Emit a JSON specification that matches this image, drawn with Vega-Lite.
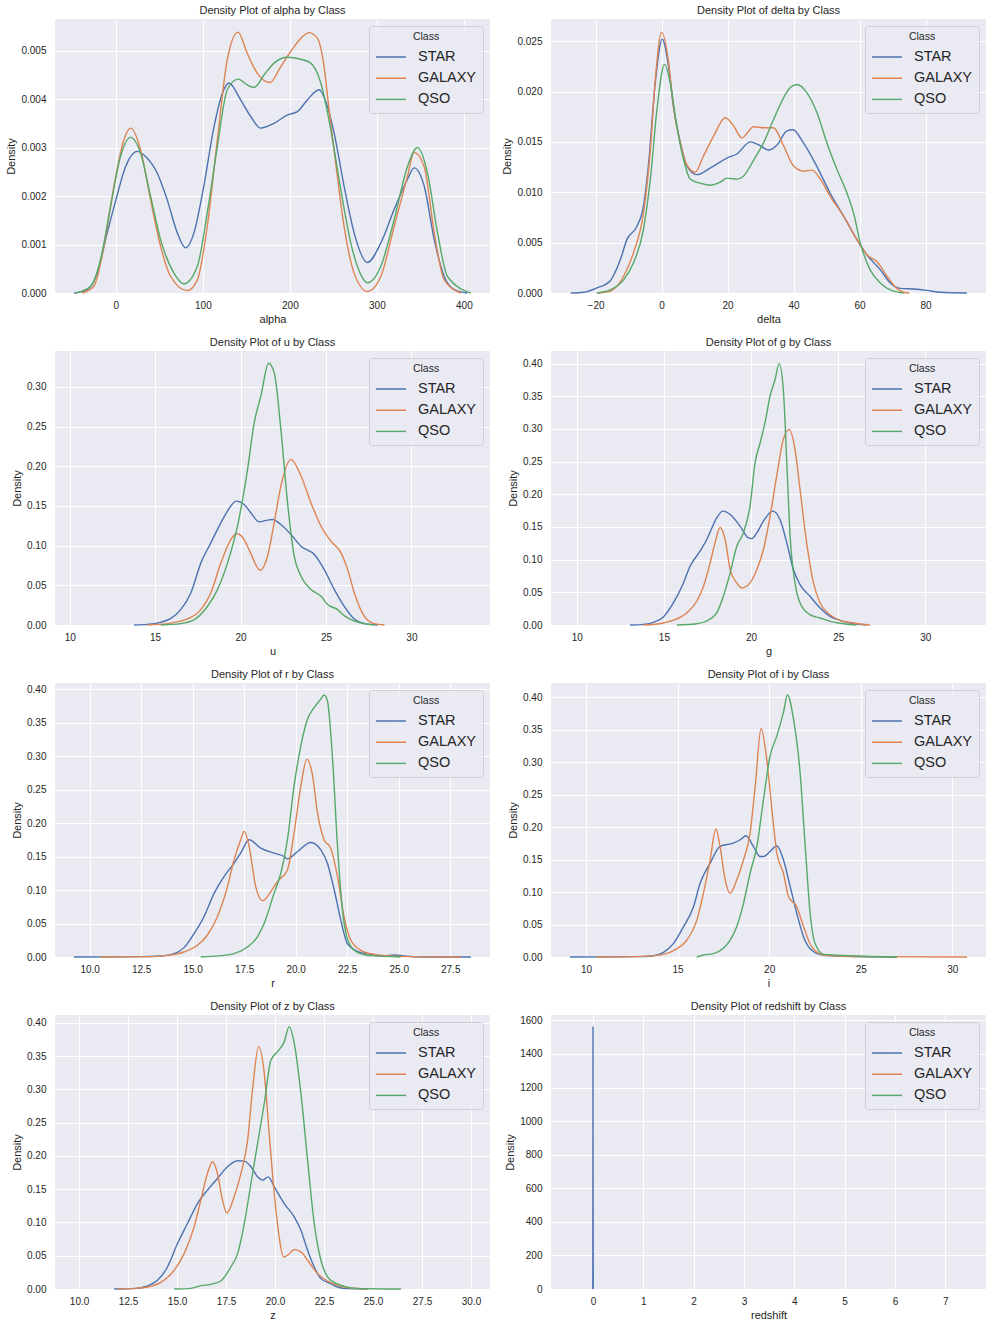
{
  "$schema": "https://vega.github.io/schema/vega-lite/v6.json",
  "background": "white",
  "padding": 5,
  "bounds": "flush",
  "columns": 2,
  "spacing": {"row": 58, "column": 61},
  "config": {
    "font": "Liberation Sans",
    "view": {"fill": "#eaeaf2", "stroke": null},
    "axis": {"domain": false, "ticks": false, "grid": true, "gridColor": "#ffffff", "gridWidth": 1, "gridOpacity": 1, "labelFont": "Liberation Sans", "labelFontSize": 10, "labelColor": "#262626", "labelOverlap": false, "titleFont": "Liberation Sans", "titleFontSize": 11, "titleFontWeight": "normal", "titleColor": "#262626"},
    "axisX": {"labelPadding": 7, "titlePadding": 3},
    "axisY": {"labelPadding": 9, "titlePadding": 4},
    "title": {"font": "Liberation Sans", "fontSize": 11, "fontWeight": "normal", "color": "#262626", "offset": 3, "frame": "group"},
    "legend": {"orient": "top-right", "offset": 7, "fillColor": "rgba(234,234,242,0.8)", "strokeColor": "#cfcfd6", "cornerRadius": 3, "padding": 6, "titleFont": "Liberation Sans", "titleFontSize": 10.5, "titleFontWeight": "normal", "titleColor": "#262626", "titleAnchor": "middle", "titlePadding": 7, "labelFont": "Liberation Sans", "labelFontSize": 14.5, "labelColor": "#262626", "labelOffset": 11, "symbolType": "stroke", "symbolSize": 900, "symbolStrokeWidth": 1.5, "clipHeight": 15, "rowPadding": 5.2},
    "line": {"strokeWidth": 1.4, "interpolate": "monotone", "clip": true}
  },
  "resolve": {"scale": {"x": "independent", "y": "independent", "color": "independent"}, "legend": {"color": "independent"}},
  "datasets": {
    "alpha": [
      {"c":"STAR","x":-48,"y":0},{"c":"STAR","x":-33,"y":0.00007},{"c":"STAR","x":-21.5,"y":0.00041},{"c":"STAR","x":-10,"y":0.00124},{"c":"STAR","x":0,"y":0.00192},{"c":"STAR","x":11,"y":0.0026},{"c":"STAR","x":24.5,"y":0.00292},{"c":"STAR","x":35,"y":0.0028},{"c":"STAR","x":47.6,"y":0.00247},{"c":"STAR","x":59,"y":0.00192},{"c":"STAR","x":70.6,"y":0.00124},{"c":"STAR","x":80,"y":0.00093},{"c":"STAR","x":89.7,"y":0.00124},{"c":"STAR","x":101,"y":0.0022},{"c":"STAR","x":112.8,"y":0.00343},{"c":"STAR","x":122,"y":0.0041},{"c":"STAR","x":130,"y":0.00433},{"c":"STAR","x":143.4,"y":0.00398},{"c":"STAR","x":155,"y":0.00364},{"c":"STAR","x":166.4,"y":0.0034},{"c":"STAR","x":181.8,"y":0.0035},{"c":"STAR","x":197,"y":0.00367},{"c":"STAR","x":208.6,"y":0.00374},{"c":"STAR","x":220,"y":0.00398},{"c":"STAR","x":233.6,"y":0.00419},{"c":"STAR","x":243,"y":0.00385},{"c":"STAR","x":250.8,"y":0.0033},{"c":"STAR","x":262.3,"y":0.0022},{"c":"STAR","x":273.8,"y":0.00124},{"c":"STAR","x":289,"y":0.00063},{"c":"STAR","x":304.5,"y":0.00103},{"c":"STAR","x":319.8,"y":0.00172},{"c":"STAR","x":335,"y":0.00234},{"c":"STAR","x":342.8,"y":0.00258},{"c":"STAR","x":354.4,"y":0.0022},{"c":"STAR","x":365.9,"y":0.0011},{"c":"STAR","x":377.4,"y":0.00034},{"c":"STAR","x":388.9,"y":0.00007},{"c":"STAR","x":404,"y":0},
      {"c":"GALAXY","x":-38.7,"y":0},{"c":"GALAXY","x":-25.3,"y":0.00014},{"c":"GALAXY","x":-13.8,"y":0.00096},{"c":"GALAXY","x":-2.3,"y":0.0022},{"c":"GALAXY","x":9.2,"y":0.00316},{"c":"GALAXY","x":16.9,"y":0.0034},{"c":"GALAXY","x":28.4,"y":0.00295},{"c":"GALAXY","x":39.9,"y":0.00192},{"c":"GALAXY","x":51.4,"y":0.00096},{"c":"GALAXY","x":62.9,"y":0.00034},{"c":"GALAXY","x":82,"y":0.00005},{"c":"GALAXY","x":93.6,"y":0.00027},{"c":"GALAXY","x":105,"y":0.00137},{"c":"GALAXY","x":116.6,"y":0.00316},{"c":"GALAXY","x":128,"y":0.00481},{"c":"GALAXY","x":140.4,"y":0.00538},{"c":"GALAXY","x":151,"y":0.00494},{"c":"GALAXY","x":162.6,"y":0.00453},{"c":"GALAXY","x":177.2,"y":0.00434},{"c":"GALAXY","x":189.5,"y":0.00467},{"c":"GALAXY","x":200.9,"y":0.00498},{"c":"GALAXY","x":212.5,"y":0.00525},{"c":"GALAXY","x":222,"y":0.00537},{"c":"GALAXY","x":231.6,"y":0.00525},{"c":"GALAXY","x":239.3,"y":0.00467},{"c":"GALAXY","x":245,"y":0.00378},{"c":"GALAXY","x":250.8,"y":0.00295},{"c":"GALAXY","x":262.3,"y":0.00137},{"c":"GALAXY","x":273.8,"y":0.00041},{"c":"GALAXY","x":289.2,"y":0.00003},{"c":"GALAXY","x":304.5,"y":0.00034},{"c":"GALAXY","x":319.8,"y":0.00137},{"c":"GALAXY","x":335,"y":0.0024},{"c":"GALAXY","x":342.8,"y":0.0029},{"c":"GALAXY","x":354.4,"y":0.0026},{"c":"GALAXY","x":365.9,"y":0.00124},{"c":"GALAXY","x":377.4,"y":0.00027},{"c":"GALAXY","x":396.6,"y":0},
      {"c":"QSO","x":-46.4,"y":0},{"c":"QSO","x":-29,"y":0.00014},{"c":"QSO","x":-17.6,"y":0.00069},{"c":"QSO","x":-6.1,"y":0.00179},{"c":"QSO","x":5.4,"y":0.00282},{"c":"QSO","x":16.9,"y":0.00321},{"c":"QSO","x":28.4,"y":0.00288},{"c":"QSO","x":39.9,"y":0.00199},{"c":"QSO","x":51.4,"y":0.0011},{"c":"QSO","x":66.7,"y":0.00041},{"c":"QSO","x":78.2,"y":0.00019},{"c":"QSO","x":93.6,"y":0.00055},{"c":"QSO","x":105,"y":0.00165},{"c":"QSO","x":116.6,"y":0.00302},{"c":"QSO","x":128,"y":0.00419},{"c":"QSO","x":140.4,"y":0.00441},{"c":"QSO","x":151,"y":0.00429},{"c":"QSO","x":158.8,"y":0.00424},{"c":"QSO","x":170.4,"y":0.0045},{"c":"QSO","x":181.8,"y":0.00474},{"c":"QSO","x":197,"y":0.00486},{"c":"QSO","x":212.5,"y":0.00482},{"c":"QSO","x":224,"y":0.00474},{"c":"QSO","x":235.5,"y":0.00433},{"c":"QSO","x":247,"y":0.00337},{"c":"QSO","x":258.5,"y":0.00213},{"c":"QSO","x":270,"y":0.00103},{"c":"QSO","x":281.5,"y":0.00038},{"c":"QSO","x":289,"y":0.00021},{"c":"QSO","x":304.5,"y":0.00055},{"c":"QSO","x":319.8,"y":0.00151},{"c":"QSO","x":335,"y":0.0026},{"c":"QSO","x":346.6,"y":0.003},{"c":"QSO","x":358.2,"y":0.00247},{"c":"QSO","x":369.7,"y":0.00124},{"c":"QSO","x":381.2,"y":0.00034},{"c":"QSO","x":408,"y":0}
    ],
    "delta": [
      {"c":"STAR","x":-27.5,"y":0},{"c":"STAR","x":-23.6,"y":0.00007},{"c":"STAR","x":-19.6,"y":0.0005},{"c":"STAR","x":-15.6,"y":0.0012},{"c":"STAR","x":-12.5,"y":0.0033},{"c":"STAR","x":-10.5,"y":0.0053},{"c":"STAR","x":-7.5,"y":0.0066},{"c":"STAR","x":-5.5,"y":0.0086},{"c":"STAR","x":-4,"y":0.0126},{"c":"STAR","x":-1.9,"y":0.0209},{"c":"STAR","x":0.2,"y":0.0252},{"c":"STAR","x":2.1,"y":0.0225},{"c":"STAR","x":3.6,"y":0.0185},{"c":"STAR","x":5.7,"y":0.0149},{"c":"STAR","x":7.7,"y":0.0126},{"c":"STAR","x":10.7,"y":0.01175},{"c":"STAR","x":14.7,"y":0.0124},{"c":"STAR","x":19.8,"y":0.0134},{"c":"STAR","x":22.8,"y":0.0138},{"c":"STAR","x":26.9,"y":0.015},{"c":"STAR","x":29.4,"y":0.0147},{"c":"STAR","x":32.4,"y":0.0142},{"c":"STAR","x":35,"y":0.0147},{"c":"STAR","x":38,"y":0.0161},{"c":"STAR","x":39.8,"y":0.0162},{"c":"STAR","x":43,"y":0.0149},{"c":"STAR","x":47,"y":0.0126},{"c":"STAR","x":51.1,"y":0.0099},{"c":"STAR","x":55.2,"y":0.0076},{"c":"STAR","x":59.2,"y":0.0053},{"c":"STAR","x":62.2,"y":0.0038},{"c":"STAR","x":66.3,"y":0.0023},{"c":"STAR","x":69.3,"y":0.001},{"c":"STAR","x":72.3,"y":0.00046},{"c":"STAR","x":76.4,"y":0.0004},{"c":"STAR","x":80.4,"y":0.00026},{"c":"STAR","x":84.4,"y":0.00007},{"c":"STAR","x":92.5,"y":0},
      {"c":"GALAXY","x":-19.6,"y":0},{"c":"GALAXY","x":-15.6,"y":0.00017},{"c":"GALAXY","x":-11.5,"y":0.00166},{"c":"GALAXY","x":-8.5,"y":0.004},{"c":"GALAXY","x":-5.5,"y":0.0079},{"c":"GALAXY","x":-3.4,"y":0.0142},{"c":"GALAXY","x":-1.9,"y":0.0212},{"c":"GALAXY","x":0,"y":0.0259},{"c":"GALAXY","x":2.1,"y":0.023},{"c":"GALAXY","x":3.6,"y":0.0185},{"c":"GALAXY","x":5.7,"y":0.0149},{"c":"GALAXY","x":7.7,"y":0.0127},{"c":"GALAXY","x":10.2,"y":0.012},{"c":"GALAXY","x":12.7,"y":0.0136},{"c":"GALAXY","x":15.8,"y":0.0156},{"c":"GALAXY","x":19.3,"y":0.0174},{"c":"GALAXY","x":21.8,"y":0.0166},{"c":"GALAXY","x":24.3,"y":0.0154},{"c":"GALAXY","x":27.9,"y":0.0165},{"c":"GALAXY","x":30.9,"y":0.0164},{"c":"GALAXY","x":33.9,"y":0.0164},{"c":"GALAXY","x":37,"y":0.0146},{"c":"GALAXY","x":40,"y":0.0126},{"c":"GALAXY","x":43,"y":0.0121},{"c":"GALAXY","x":45.6,"y":0.0122},{"c":"GALAXY","x":48.1,"y":0.0113},{"c":"GALAXY","x":51.1,"y":0.0096},{"c":"GALAXY","x":55.2,"y":0.0076},{"c":"GALAXY","x":59.2,"y":0.0053},{"c":"GALAXY","x":62.2,"y":0.0038},{"c":"GALAXY","x":65.3,"y":0.0031},{"c":"GALAXY","x":68.3,"y":0.00166},{"c":"GALAXY","x":71.3,"y":0.00046},{"c":"GALAXY","x":73.3,"y":0.00007},{"c":"GALAXY","x":75,"y":0},
      {"c":"QSO","x":-19.6,"y":0},{"c":"QSO","x":-15.6,"y":0.0003},{"c":"QSO","x":-11.5,"y":0.0013},{"c":"QSO","x":-8.5,"y":0.003},{"c":"QSO","x":-5.5,"y":0.0063},{"c":"QSO","x":-3.4,"y":0.0113},{"c":"QSO","x":-1.4,"y":0.0182},{"c":"QSO","x":0.9,"y":0.0227},{"c":"QSO","x":2.6,"y":0.0209},{"c":"QSO","x":4.6,"y":0.0166},{"c":"QSO","x":6.7,"y":0.0132},{"c":"QSO","x":8.7,"y":0.0113},{"c":"QSO","x":11.7,"y":0.0109},{"c":"QSO","x":14.7,"y":0.0107},{"c":"QSO","x":17.8,"y":0.011},{"c":"QSO","x":19.8,"y":0.0114},{"c":"QSO","x":22.8,"y":0.0113},{"c":"QSO","x":24.8,"y":0.0116},{"c":"QSO","x":27.9,"y":0.0132},{"c":"QSO","x":30.9,"y":0.0149},{"c":"QSO","x":33.9,"y":0.0172},{"c":"QSO","x":37,"y":0.0194},{"c":"QSO","x":39,"y":0.0204},{"c":"QSO","x":41,"y":0.0207},{"c":"QSO","x":44,"y":0.0199},{"c":"QSO","x":47.1,"y":0.0179},{"c":"QSO","x":50.1,"y":0.0149},{"c":"QSO","x":53.1,"y":0.0123},{"c":"QSO","x":56.2,"y":0.0099},{"c":"QSO","x":58.2,"y":0.0079},{"c":"QSO","x":60.2,"y":0.005},{"c":"QSO","x":63.2,"y":0.0023},{"c":"QSO","x":66.3,"y":0.001},{"c":"QSO","x":69.3,"y":0.0003},{"c":"QSO","x":73.3,"y":0}
    ],
    "u": [
      {"c":"STAR","x":13.77,"y":0},{"c":"STAR","x":14.55,"y":0.0008},{"c":"STAR","x":15.33,"y":0.0034},{"c":"STAR","x":15.92,"y":0.0084},{"c":"STAR","x":16.5,"y":0.0194},{"c":"STAR","x":17.09,"y":0.0404},{"c":"STAR","x":17.68,"y":0.0783},{"c":"STAR","x":18.26,"y":0.1035},{"c":"STAR","x":18.85,"y":0.1288},{"c":"STAR","x":19.43,"y":0.1498},{"c":"STAR","x":19.73,"y":0.1561},{"c":"STAR","x":20.21,"y":0.1519},{"c":"STAR","x":20.6,"y":0.1414},{"c":"STAR","x":21.09,"y":0.13},{"c":"STAR","x":21.58,"y":0.1321},{"c":"STAR","x":21.88,"y":0.133},{"c":"STAR","x":22.36,"y":0.1266},{"c":"STAR","x":22.95,"y":0.114},{"c":"STAR","x":23.54,"y":0.0993},{"c":"STAR","x":24.32,"y":0.0888},{"c":"STAR","x":24.9,"y":0.0698},{"c":"STAR","x":25.49,"y":0.0446},{"c":"STAR","x":26.07,"y":0.0236},{"c":"STAR","x":26.66,"y":0.0076},{"c":"STAR","x":27.25,"y":0.0017},{"c":"STAR","x":28.03,"y":0},
      {"c":"GALAXY","x":14.55,"y":0},{"c":"GALAXY","x":15.72,"y":0.0017},{"c":"GALAXY","x":16.89,"y":0.0076},{"c":"GALAXY","x":17.68,"y":0.0194},{"c":"GALAXY","x":18.26,"y":0.0404},{"c":"GALAXY","x":18.85,"y":0.0783},{"c":"GALAXY","x":19.43,"y":0.1077},{"c":"GALAXY","x":19.79,"y":0.1153},{"c":"GALAXY","x":20.21,"y":0.1077},{"c":"GALAXY","x":20.6,"y":0.09},{"c":"GALAXY","x":21.15,"y":0.069},{"c":"GALAXY","x":21.58,"y":0.0867},{"c":"GALAXY","x":21.97,"y":0.1288},{"c":"GALAXY","x":22.36,"y":0.175},{"c":"GALAXY","x":22.95,"y":0.2087},{"c":"GALAXY","x":23.54,"y":0.1877},{"c":"GALAXY","x":24.12,"y":0.154},{"c":"GALAXY","x":24.71,"y":0.1245},{"c":"GALAXY","x":25.29,"y":0.1056},{"c":"GALAXY","x":25.88,"y":0.0909},{"c":"GALAXY","x":26.27,"y":0.0698},{"c":"GALAXY","x":26.66,"y":0.0404},{"c":"GALAXY","x":27.25,"y":0.0109},{"c":"GALAXY","x":27.83,"y":0.0017},{"c":"GALAXY","x":28.42,"y":0},
      {"c":"QSO","x":15.33,"y":0},{"c":"QSO","x":16.5,"y":0.0017},{"c":"QSO","x":17.29,"y":0.0067},{"c":"QSO","x":18.07,"y":0.0236},{"c":"QSO","x":18.65,"y":0.0446},{"c":"QSO","x":19.24,"y":0.0783},{"c":"QSO","x":19.82,"y":0.1245},{"c":"QSO","x":20.41,"y":0.196},{"c":"QSO","x":20.8,"y":0.255},{"c":"QSO","x":21.19,"y":0.2886},{"c":"QSO","x":21.64,"y":0.3299},{"c":"QSO","x":21.97,"y":0.318},{"c":"QSO","x":22.36,"y":0.2466},{"c":"QSO","x":22.75,"y":0.154},{"c":"QSO","x":23.14,"y":0.0867},{"c":"QSO","x":23.54,"y":0.0614},{"c":"QSO","x":24.12,"y":0.0446},{"c":"QSO","x":24.71,"y":0.0362},{"c":"QSO","x":25.1,"y":0.0257},{"c":"QSO","x":25.68,"y":0.0194},{"c":"QSO","x":26.07,"y":0.0118},{"c":"QSO","x":26.46,"y":0.0067},{"c":"QSO","x":27.25,"y":0.0017},{"c":"QSO","x":27.83,"y":0}
    ],
    "g": [
      {"c":"STAR","x":13.06,"y":0},{"c":"STAR","x":13.82,"y":0.001},{"c":"STAR","x":14.4,"y":0.0041},{"c":"STAR","x":14.97,"y":0.0123},{"c":"STAR","x":15.54,"y":0.0337},{"c":"STAR","x":16.12,"y":0.0644},{"c":"STAR","x":16.5,"y":0.0899},{"c":"STAR","x":17.07,"y":0.1129},{"c":"STAR","x":17.46,"y":0.1308},{"c":"STAR","x":18.03,"y":0.164},{"c":"STAR","x":18.37,"y":0.1742},{"c":"STAR","x":18.8,"y":0.1691},{"c":"STAR","x":19.37,"y":0.1512},{"c":"STAR","x":19.85,"y":0.1333},{"c":"STAR","x":20.04,"y":0.1323},{"c":"STAR","x":20.33,"y":0.141},{"c":"STAR","x":20.71,"y":0.1589},{"c":"STAR","x":21.24,"y":0.1742},{"c":"STAR","x":21.66,"y":0.1614},{"c":"STAR","x":22.05,"y":0.1257},{"c":"STAR","x":22.43,"y":0.0848},{"c":"STAR","x":22.81,"y":0.0618},{"c":"STAR","x":23.38,"y":0.0439},{"c":"STAR","x":23.96,"y":0.0261},{"c":"STAR","x":24.53,"y":0.0133},{"c":"STAR","x":25.1,"y":0.0072},{"c":"STAR","x":25.68,"y":0.0031},{"c":"STAR","x":26.63,"y":0},
      {"c":"GALAXY","x":13.82,"y":0},{"c":"GALAXY","x":14.97,"y":0.0031},{"c":"GALAXY","x":15.74,"y":0.0092},{"c":"GALAXY","x":16.31,"y":0.0184},{"c":"GALAXY","x":16.88,"y":0.0363},{"c":"GALAXY","x":17.27,"y":0.0593},{"c":"GALAXY","x":17.65,"y":0.095},{"c":"GALAXY","x":17.93,"y":0.1257},{"c":"GALAXY","x":18.22,"y":0.1492},{"c":"GALAXY","x":18.51,"y":0.1308},{"c":"GALAXY","x":18.8,"y":0.0848},{"c":"GALAXY","x":19.18,"y":0.0644},{"c":"GALAXY","x":19.46,"y":0.0567},{"c":"GALAXY","x":19.94,"y":0.0644},{"c":"GALAXY","x":20.33,"y":0.0848},{"c":"GALAXY","x":20.71,"y":0.1155},{"c":"GALAXY","x":21.09,"y":0.1665},{"c":"GALAXY","x":21.47,"y":0.2278},{"c":"GALAXY","x":21.85,"y":0.284},{"c":"GALAXY","x":22.18,"y":0.2994},{"c":"GALAXY","x":22.52,"y":0.2687},{"c":"GALAXY","x":22.81,"y":0.2074},{"c":"GALAXY","x":23.19,"y":0.1257},{"c":"GALAXY","x":23.58,"y":0.0644},{"c":"GALAXY","x":23.96,"y":0.0337},{"c":"GALAXY","x":24.53,"y":0.0158},{"c":"GALAXY","x":25.1,"y":0.0072},{"c":"GALAXY","x":25.87,"y":0.0031},{"c":"GALAXY","x":26.83,"y":0},
      {"c":"QSO","x":15.74,"y":0},{"c":"QSO","x":16.88,"y":0.002},{"c":"QSO","x":17.65,"y":0.0092},{"c":"QSO","x":18.03,"y":0.0184},{"c":"QSO","x":18.41,"y":0.0439},{"c":"QSO","x":18.8,"y":0.0797},{"c":"QSO","x":19.18,"y":0.1206},{"c":"QSO","x":19.56,"y":0.141},{"c":"QSO","x":19.94,"y":0.1819},{"c":"QSO","x":20.23,"y":0.2483},{"c":"QSO","x":20.52,"y":0.2789},{"c":"QSO","x":20.8,"y":0.3096},{"c":"QSO","x":21.09,"y":0.3504},{"c":"QSO","x":21.38,"y":0.376},{"c":"QSO","x":21.61,"y":0.4},{"c":"QSO","x":21.85,"y":0.3607},{"c":"QSO","x":22.05,"y":0.2483},{"c":"QSO","x":22.24,"y":0.1359},{"c":"QSO","x":22.52,"y":0.0644},{"c":"QSO","x":22.81,"y":0.0337},{"c":"QSO","x":23.38,"y":0.0158},{"c":"QSO","x":23.96,"y":0.0107},{"c":"QSO","x":24.53,"y":0.0056},{"c":"QSO","x":25.3,"y":0.002},{"c":"QSO","x":26.06,"y":0}
    ],
    "r": [
      {"c":"STAR","x":9.24,"y":0},{"c":"STAR","x":12.48,"y":0.0005},{"c":"STAR","x":13.45,"y":0.0015},{"c":"STAR","x":14.1,"y":0.005},{"c":"STAR","x":14.58,"y":0.014},{"c":"STAR","x":15.07,"y":0.035},{"c":"STAR","x":15.55,"y":0.06},{"c":"STAR","x":16.04,"y":0.095},{"c":"STAR","x":16.52,"y":0.12},{"c":"STAR","x":17.01,"y":0.14},{"c":"STAR","x":17.33,"y":0.155},{"c":"STAR","x":17.74,"y":0.175},{"c":"STAR","x":18.3,"y":0.1625},{"c":"STAR","x":18.95,"y":0.155},{"c":"STAR","x":19.44,"y":0.15},{"c":"STAR","x":19.6,"y":0.1465},{"c":"STAR","x":20.09,"y":0.1575},{"c":"STAR","x":20.73,"y":0.171},{"c":"STAR","x":21.22,"y":0.16},{"c":"STAR","x":21.54,"y":0.14},{"c":"STAR","x":21.87,"y":0.1},{"c":"STAR","x":22.19,"y":0.055},{"c":"STAR","x":22.51,"y":0.02},{"c":"STAR","x":23.0,"y":0.0085},{"c":"STAR","x":23.65,"y":0.004},{"c":"STAR","x":24.29,"y":0.002},{"c":"STAR","x":24.78,"y":0.003},{"c":"STAR","x":25.27,"y":0.0015},{"c":"STAR","x":26.08,"y":0},{"c":"STAR","x":28.5,"y":0},
      {"c":"GALAXY","x":10.53,"y":0},{"c":"GALAXY","x":12.8,"y":0.0005},{"c":"GALAXY","x":13.77,"y":0.0025},{"c":"GALAXY","x":14.58,"y":0.0075},{"c":"GALAXY","x":15.23,"y":0.0175},{"c":"GALAXY","x":15.71,"y":0.0325},{"c":"GALAXY","x":16.2,"y":0.06},{"c":"GALAXY","x":16.69,"y":0.105},{"c":"GALAXY","x":17.01,"y":0.145},{"c":"GALAXY","x":17.33,"y":0.175},{"c":"GALAXY","x":17.5,"y":0.1875},{"c":"GALAXY","x":17.74,"y":0.165},{"c":"GALAXY","x":18.06,"y":0.105},{"c":"GALAXY","x":18.39,"y":0.084},{"c":"GALAXY","x":18.79,"y":0.0975},{"c":"GALAXY","x":19.11,"y":0.1125},{"c":"GALAXY","x":19.6,"y":0.13},{"c":"GALAXY","x":19.92,"y":0.185},{"c":"GALAXY","x":20.25,"y":0.255},{"c":"GALAXY","x":20.54,"y":0.295},{"c":"GALAXY","x":20.81,"y":0.2725},{"c":"GALAXY","x":21.06,"y":0.215},{"c":"GALAXY","x":21.38,"y":0.175},{"c":"GALAXY","x":21.7,"y":0.1625},{"c":"GALAXY","x":22.03,"y":0.12},{"c":"GALAXY","x":22.35,"y":0.06},{"c":"GALAXY","x":22.68,"y":0.025},{"c":"GALAXY","x":23.16,"y":0.01},{"c":"GALAXY","x":23.81,"y":0.004},{"c":"GALAXY","x":25.1,"y":0.001},{"c":"GALAXY","x":28.02,"y":0},
      {"c":"QSO","x":15.39,"y":0},{"c":"QSO","x":16.36,"y":0.002},{"c":"QSO","x":17.01,"y":0.005},{"c":"QSO","x":17.66,"y":0.015},{"c":"QSO","x":18.14,"y":0.03},{"c":"QSO","x":18.47,"y":0.05},{"c":"QSO","x":18.95,"y":0.095},{"c":"QSO","x":19.28,"y":0.125},{"c":"QSO","x":19.6,"y":0.175},{"c":"QSO","x":19.92,"y":0.255},{"c":"QSO","x":20.25,"y":0.315},{"c":"QSO","x":20.57,"y":0.355},{"c":"QSO","x":20.9,"y":0.3725},{"c":"QSO","x":21.22,"y":0.385},{"c":"QSO","x":21.38,"y":0.391},{"c":"QSO","x":21.54,"y":0.3825},{"c":"QSO","x":21.79,"y":0.295},{"c":"QSO","x":22.03,"y":0.165},{"c":"QSO","x":22.27,"y":0.07},{"c":"QSO","x":22.6,"y":0.02},{"c":"QSO","x":23.0,"y":0.007},{"c":"QSO","x":23.65,"y":0.002},{"c":"QSO","x":25.1,"y":0}
    ],
    "i": [
      {"c":"STAR","x":9.13,"y":0},{"c":"STAR","x":12.77,"y":0.0005},{"c":"STAR","x":13.68,"y":0.002},{"c":"STAR","x":14.23,"y":0.0072},{"c":"STAR","x":14.77,"y":0.0206},{"c":"STAR","x":15.32,"y":0.0464},{"c":"STAR","x":15.87,"y":0.0773},{"c":"STAR","x":16.23,"y":0.1134},{"c":"STAR","x":16.78,"y":0.1443},{"c":"STAR","x":17.32,"y":0.1701},{"c":"STAR","x":18.05,"y":0.1753},{"c":"STAR","x":18.42,"y":0.1804},{"c":"STAR","x":18.74,"y":0.1866},{"c":"STAR","x":19.14,"y":0.1701},{"c":"STAR","x":19.51,"y":0.1546},{"c":"STAR","x":19.69,"y":0.1546},{"c":"STAR","x":20.05,"y":0.1624},{"c":"STAR","x":20.42,"y":0.1711},{"c":"STAR","x":20.78,"y":0.1495},{"c":"STAR","x":21.15,"y":0.1083},{"c":"STAR","x":21.51,"y":0.067},{"c":"STAR","x":21.88,"y":0.0309},{"c":"STAR","x":22.33,"y":0.0103},{"c":"STAR","x":22.97,"y":0.0026},{"c":"STAR","x":24.24,"y":0.001},{"c":"STAR","x":26.98,"y":0},
      {"c":"GALAXY","x":10.58,"y":0},{"c":"GALAXY","x":13.13,"y":0.001},{"c":"GALAXY","x":14.23,"y":0.0041},{"c":"GALAXY","x":14.95,"y":0.0124},{"c":"GALAXY","x":15.5,"y":0.0258},{"c":"GALAXY","x":16.05,"y":0.0567},{"c":"GALAXY","x":16.41,"y":0.0979},{"c":"GALAXY","x":16.78,"y":0.1495},{"c":"GALAXY","x":17.09,"y":0.1969},{"c":"GALAXY","x":17.32,"y":0.1701},{"c":"GALAXY","x":17.6,"y":0.1186},{"c":"GALAXY","x":17.87,"y":0.0979},{"c":"GALAXY","x":18.23,"y":0.1186},{"c":"GALAXY","x":18.6,"y":0.1495},{"c":"GALAXY","x":18.96,"y":0.1907},{"c":"GALAXY","x":19.24,"y":0.2629},{"c":"GALAXY","x":19.56,"y":0.3516},{"c":"GALAXY","x":19.87,"y":0.3041},{"c":"GALAXY","x":20.15,"y":0.2268},{"c":"GALAXY","x":20.42,"y":0.1598},{"c":"GALAXY","x":20.78,"y":0.1289},{"c":"GALAXY","x":21.06,"y":0.0928},{"c":"GALAXY","x":21.51,"y":0.0773},{"c":"GALAXY","x":21.88,"y":0.0464},{"c":"GALAXY","x":22.33,"y":0.0155},{"c":"GALAXY","x":22.97,"y":0.0031},{"c":"GALAXY","x":25.15,"y":0.0005},{"c":"GALAXY","x":30.8,"y":0},
      {"c":"QSO","x":16.05,"y":0},{"c":"QSO","x":16.41,"y":0.0031},{"c":"QSO","x":16.96,"y":0.0052},{"c":"QSO","x":17.5,"y":0.0134},{"c":"QSO","x":17.87,"y":0.0258},{"c":"QSO","x":18.23,"y":0.0464},{"c":"QSO","x":18.6,"y":0.0825},{"c":"QSO","x":18.96,"y":0.1289},{"c":"QSO","x":19.33,"y":0.1701},{"c":"QSO","x":19.69,"y":0.2423},{"c":"QSO","x":20.05,"y":0.3093},{"c":"QSO","x":20.42,"y":0.3402},{"c":"QSO","x":20.78,"y":0.3763},{"c":"QSO","x":21.0,"y":0.4031},{"c":"QSO","x":21.33,"y":0.366},{"c":"QSO","x":21.69,"y":0.2835},{"c":"QSO","x":21.97,"y":0.1701},{"c":"QSO","x":22.24,"y":0.067},{"c":"QSO","x":22.51,"y":0.0206},{"c":"QSO","x":22.97,"y":0.0041},{"c":"QSO","x":24.43,"y":0.002},{"c":"QSO","x":26.98,"y":0}
    ],
    "z": [
      {"c":"STAR","x":11.79,"y":0},{"c":"STAR","x":12.81,"y":0.0005},{"c":"STAR","x":13.49,"y":0.0045},{"c":"STAR","x":14.0,"y":0.013},{"c":"STAR","x":14.51,"y":0.0331},{"c":"STAR","x":15.02,"y":0.0683},{"c":"STAR","x":15.53,"y":0.0984},{"c":"STAR","x":16.04,"y":0.1285},{"c":"STAR","x":16.55,"y":0.1486},{"c":"STAR","x":17.06,"y":0.1661},{"c":"STAR","x":17.57,"y":0.1837},{"c":"STAR","x":18.09,"y":0.1927},{"c":"STAR","x":18.43,"y":0.1922},{"c":"STAR","x":18.77,"y":0.1837},{"c":"STAR","x":19.11,"y":0.1686},{"c":"STAR","x":19.36,"y":0.1636},{"c":"STAR","x":19.65,"y":0.1686},{"c":"STAR","x":19.96,"y":0.1536},{"c":"STAR","x":20.47,"y":0.1285},{"c":"STAR","x":20.98,"y":0.1084},{"c":"STAR","x":21.32,"y":0.0883},{"c":"STAR","x":21.66,"y":0.0582},{"c":"STAR","x":22.0,"y":0.0331},{"c":"STAR","x":22.34,"y":0.0156},{"c":"STAR","x":22.85,"y":0.008},{"c":"STAR","x":23.19,"y":0.003},{"c":"STAR","x":23.7,"y":0.0005},{"c":"STAR","x":24.72,"y":0},
      {"c":"GALAXY","x":11.96,"y":0},{"c":"GALAXY","x":12.81,"y":0.001},{"c":"GALAXY","x":13.49,"y":0.003},{"c":"GALAXY","x":14.17,"y":0.01},{"c":"GALAXY","x":14.85,"y":0.0281},{"c":"GALAXY","x":15.36,"y":0.0532},{"c":"GALAXY","x":15.87,"y":0.0934},{"c":"GALAXY","x":16.21,"y":0.1335},{"c":"GALAXY","x":16.55,"y":0.1737},{"c":"GALAXY","x":16.81,"y":0.1912},{"c":"GALAXY","x":17.06,"y":0.1737},{"c":"GALAXY","x":17.32,"y":0.1335},{"c":"GALAXY","x":17.54,"y":0.1144},{"c":"GALAXY","x":17.91,"y":0.1385},{"c":"GALAXY","x":18.26,"y":0.1737},{"c":"GALAXY","x":18.6,"y":0.2238},{"c":"GALAXY","x":18.85,"y":0.2991},{"c":"GALAXY","x":19.16,"y":0.3644},{"c":"GALAXY","x":19.45,"y":0.3242},{"c":"GALAXY","x":19.7,"y":0.2339},{"c":"GALAXY","x":19.96,"y":0.1435},{"c":"GALAXY","x":20.21,"y":0.0783},{"c":"GALAXY","x":20.43,"y":0.0482},{"c":"GALAXY","x":20.64,"y":0.0507},{"c":"GALAXY","x":20.98,"y":0.0592},{"c":"GALAXY","x":21.32,"y":0.0557},{"c":"GALAXY","x":21.66,"y":0.0432},{"c":"GALAXY","x":22.17,"y":0.0231},{"c":"GALAXY","x":22.68,"y":0.012},{"c":"GALAXY","x":23.19,"y":0.0055},{"c":"GALAXY","x":23.87,"y":0.0015},{"c":"GALAXY","x":24.72,"y":0},
      {"c":"QSO","x":14.85,"y":0},{"c":"QSO","x":15.7,"y":0.001},{"c":"QSO","x":16.21,"y":0.005},{"c":"QSO","x":16.72,"y":0.007},{"c":"QSO","x":17.23,"y":0.012},{"c":"QSO","x":17.74,"y":0.0331},{"c":"QSO","x":18.09,"y":0.0532},{"c":"QSO","x":18.43,"y":0.0984},{"c":"QSO","x":18.77,"y":0.1586},{"c":"QSO","x":19.11,"y":0.2188},{"c":"QSO","x":19.45,"y":0.279},{"c":"QSO","x":19.79,"y":0.3443},{"c":"QSO","x":20.13,"y":0.3568},{"c":"QSO","x":20.47,"y":0.3719},{"c":"QSO","x":20.72,"y":0.3945},{"c":"QSO","x":20.98,"y":0.3694},{"c":"QSO","x":21.32,"y":0.2941},{"c":"QSO","x":21.66,"y":0.1937},{"c":"QSO","x":22.0,"y":0.0984},{"c":"QSO","x":22.34,"y":0.0432},{"c":"QSO","x":22.68,"y":0.0181},{"c":"QSO","x":23.02,"y":0.01},{"c":"QSO","x":23.53,"y":0.004},{"c":"QSO","x":24.38,"y":0.0005},{"c":"QSO","x":26.43,"y":0}
    ],
    "redshift": [
      {"c":"STAR","x":-0.004,"y":0},{"c":"STAR","x":-0.0012,"y":780},{"c":"STAR","x":0,"y":1564},{"c":"STAR","x":0.0012,"y":780},{"c":"STAR","x":0.004,"y":0}
    ]
  },
  "concat": [
    {"width": 435, "height": 274, "title": "Density Plot of alpha by Class", "data": {"name": "alpha"}, "mark": {"type": "line"},
     "encoding": {
       "x": {"field": "x", "type": "quantitative", "title": "alpha", "scale": {"domain": [-70, 430], "nice": false, "zero": false}, "axis": {"values": [0, 100, 200, 300, 400], "format": "d"}},
       "y": {"field": "y", "type": "quantitative", "title": "Density", "scale": {"domain": [0, 0.00565], "nice": false}, "axis": {"values": [0, 0.001, 0.002, 0.003, 0.004, 0.005], "format": ".3f"}},
       "color": {"field": "c", "type": "nominal", "scale": {"domain": ["STAR", "GALAXY", "QSO"], "range": ["#4c72b0", "#dd8452", "#55a868"]}, "legend": {"title": "Class"}}}},
    {"width": 435, "height": 274, "title": "Density Plot of delta by Class", "data": {"name": "delta"}, "mark": {"type": "line"},
     "encoding": {
       "x": {"field": "x", "type": "quantitative", "title": "delta", "scale": {"domain": [-33.5, 98.3], "nice": false, "zero": false}, "axis": {"values": [-20, 0, 20, 40, 60, 80], "format": "d"}},
       "y": {"field": "y", "type": "quantitative", "title": "Density", "scale": {"domain": [0, 0.0272], "nice": false}, "axis": {"values": [0, 0.005, 0.01, 0.015, 0.02, 0.025], "format": ".3f"}},
       "color": {"field": "c", "type": "nominal", "scale": {"domain": ["STAR", "GALAXY", "QSO"], "range": ["#4c72b0", "#dd8452", "#55a868"]}, "legend": {"title": "Class"}}}},
    {"width": 435, "height": 274, "title": "Density Plot of u by Class", "data": {"name": "u"}, "mark": {"type": "line"},
     "encoding": {
       "x": {"field": "x", "type": "quantitative", "title": "u", "scale": {"domain": [9.14, 34.6], "nice": false, "zero": false}, "axis": {"values": [10, 15, 20, 25, 30], "format": "d"}},
       "y": {"field": "y", "type": "quantitative", "title": "Density", "scale": {"domain": [0, 0.3453], "nice": false}, "axis": {"values": [0, 0.05, 0.1, 0.15, 0.2, 0.25, 0.3], "format": ".2f"}},
       "color": {"field": "c", "type": "nominal", "scale": {"domain": ["STAR", "GALAXY", "QSO"], "range": ["#4c72b0", "#dd8452", "#55a868"]}, "legend": {"title": "Class"}}}},
    {"width": 435, "height": 274, "title": "Density Plot of g by Class", "data": {"name": "g"}, "mark": {"type": "line"},
     "encoding": {
       "x": {"field": "x", "type": "quantitative", "title": "g", "scale": {"domain": [8.52, 33.48], "nice": false, "zero": false}, "axis": {"values": [10, 15, 20, 25, 30], "format": "d"}},
       "y": {"field": "y", "type": "quantitative", "title": "Density", "scale": {"domain": [0, 0.4193], "nice": false}, "axis": {"values": [0, 0.05, 0.1, 0.15, 0.2, 0.25, 0.3, 0.35, 0.4], "format": ".2f"}},
       "color": {"field": "c", "type": "nominal", "scale": {"domain": ["STAR", "GALAXY", "QSO"], "range": ["#4c72b0", "#dd8452", "#55a868"]}, "legend": {"title": "Class"}}}},
    {"width": 435, "height": 274, "title": "Density Plot of r by Class", "data": {"name": "r"}, "mark": {"type": "line"},
     "encoding": {
       "x": {"field": "x", "type": "quantitative", "title": "r", "scale": {"domain": [8.32, 29.43], "nice": false, "zero": false}, "axis": {"values": [10, 12.5, 15, 17.5, 20, 22.5, 25, 27.5], "format": ".1f"}},
       "y": {"field": "y", "type": "quantitative", "title": "Density", "scale": {"domain": [0, 0.409], "nice": false}, "axis": {"values": [0, 0.05, 0.1, 0.15, 0.2, 0.25, 0.3, 0.35, 0.4], "format": ".2f"}},
       "color": {"field": "c", "type": "nominal", "scale": {"domain": ["STAR", "GALAXY", "QSO"], "range": ["#4c72b0", "#dd8452", "#55a868"]}, "legend": {"title": "Class"}}}},
    {"width": 435, "height": 274, "title": "Density Plot of i by Class", "data": {"name": "i"}, "mark": {"type": "line"},
     "encoding": {
       "x": {"field": "x", "type": "quantitative", "title": "i", "scale": {"domain": [8.09, 31.84], "nice": false, "zero": false}, "axis": {"values": [10, 15, 20, 25, 30], "format": "d"}},
       "y": {"field": "y", "type": "quantitative", "title": "Density", "scale": {"domain": [0, 0.4216], "nice": false}, "axis": {"values": [0, 0.05, 0.1, 0.15, 0.2, 0.25, 0.3, 0.35, 0.4], "format": ".2f"}},
       "color": {"field": "c", "type": "nominal", "scale": {"domain": ["STAR", "GALAXY", "QSO"], "range": ["#4c72b0", "#dd8452", "#55a868"]}, "legend": {"title": "Class"}}}},
    {"width": 435, "height": 274, "title": "Density Plot of z by Class", "data": {"name": "z"}, "mark": {"type": "line"},
     "encoding": {
       "x": {"field": "x", "type": "quantitative", "title": "z", "scale": {"domain": [8.77, 30.97], "nice": false, "zero": false}, "axis": {"values": [10, 12.5, 15, 17.5, 20, 22.5, 25, 27.5, 30], "format": ".1f"}},
       "y": {"field": "y", "type": "quantitative", "title": "Density", "scale": {"domain": [0, 0.4119], "nice": false}, "axis": {"values": [0, 0.05, 0.1, 0.15, 0.2, 0.25, 0.3, 0.35, 0.4], "format": ".2f"}},
       "color": {"field": "c", "type": "nominal", "scale": {"domain": ["STAR", "GALAXY", "QSO"], "range": ["#4c72b0", "#dd8452", "#55a868"]}, "legend": {"title": "Class"}}}},
    {"width": 435, "height": 274, "title": "Density Plot of redshift by Class", "data": {"name": "redshift"}, "mark": {"type": "line", "interpolate": "linear"},
     "encoding": {
       "x": {"field": "x", "type": "quantitative", "title": "redshift", "scale": {"domain": [-0.835, 7.81], "nice": false, "zero": false}, "axis": {"values": [0, 1, 2, 3, 4, 5, 6, 7], "format": "d"}},
       "y": {"field": "y", "type": "quantitative", "title": "Density", "scale": {"domain": [0, 1632], "nice": false}, "axis": {"values": [0, 200, 400, 600, 800, 1000, 1200, 1400, 1600], "format": "d"}},
       "color": {"field": "c", "type": "nominal", "scale": {"domain": ["STAR", "GALAXY", "QSO"], "range": ["#4c72b0", "#dd8452", "#55a868"]}, "legend": {"title": "Class"}}}}
  ]
}
